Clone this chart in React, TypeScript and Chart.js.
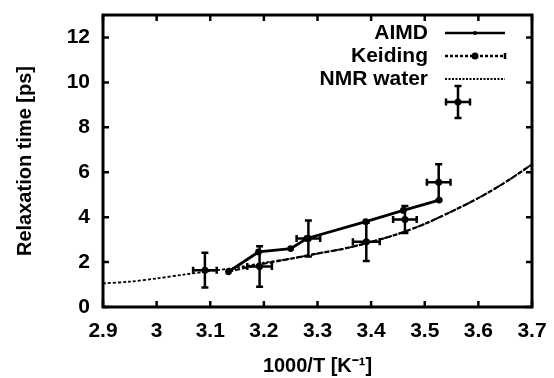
import React, { useEffect, useRef } from "react";
import { Chart, registerables } from "chart.js";

Chart.register(...registerables);

const xTicks = [2.9, 3.0, 3.1, 3.2, 3.3, 3.4, 3.5, 3.6, 3.7];
const yTicks = [0, 2, 4, 6, 8, 10, 12];

const aimdX = [3.134, 3.19, 3.25, 3.28, 3.39, 3.46, 3.527];
const aimdY = [1.57, 2.45, 2.6, 3.05, 3.8, 4.3, 4.76];

const keidingX = [3.134, 3.19, 3.25, 3.3, 3.35, 3.4, 3.45, 3.5, 3.55, 3.6, 3.65, 3.7];
const keidingY = [1.57, 1.88, 2.15, 2.38, 2.6, 2.9, 3.25, 3.7, 4.25, 4.85, 5.55, 6.35];

const nmrX = [2.9, 2.95, 3.0, 3.05, 3.1, 3.15, 3.2, 3.25, 3.3, 3.35, 3.4, 3.45, 3.5, 3.55, 3.6, 3.65, 3.7];
const nmrY = [1.05, 1.13, 1.27, 1.44, 1.6, 1.76, 1.97, 2.15, 2.38, 2.6, 2.9, 3.25, 3.7, 4.25, 4.85, 5.55, 6.35];

const expX = [3.09, 3.192, 3.283, 3.391, 3.463, 3.526];
const expY = [1.64, 1.8, 3.05, 2.9, 3.9, 5.55];
const expXErr = [0.022, 0.023, 0.022, 0.025, 0.022, 0.022];
const expYErr = [0.77, 0.9, 0.8, 0.85, 0.6, 0.8];

const seriesNames = ["AIMD", "Keiding", "NMR water"];

const FONT = "'Liberation Sans', Arial, sans-serif";

const zip = (xs: number[], ys: number[]) => xs.map((x, i) => ({ x, y: ys[i] }));

const framePlugin = {
  id: "frame",
  afterDraw(chart: any) {
    const { ctx, chartArea: a, scales } = chart;
    ctx.save();
    ctx.strokeStyle = "#000";
    ctx.lineWidth = 3;
    ctx.strokeRect(a.left, a.top, a.right - a.left, a.bottom - a.top);
    ctx.lineWidth = 2.5;
    const tl = 6;
    ctx.beginPath();
    xTicks.forEach((v) => {
      const px = scales.x.getPixelForValue(v);
      ctx.moveTo(px, a.bottom);
      ctx.lineTo(px, a.bottom - tl);
      ctx.moveTo(px, a.top);
      ctx.lineTo(px, a.top + tl);
    });
    yTicks.forEach((v) => {
      const py = scales.y.getPixelForValue(v);
      ctx.moveTo(a.left, py);
      ctx.lineTo(a.left + tl, py);
      ctx.moveTo(a.right, py);
      ctx.lineTo(a.right - tl, py);
    });
    ctx.stroke();
    ctx.restore();
  },
};

function drawCross(ctx: any, cx: number, cy: number, x0: number, x1: number, y0: number, y1: number) {
  const cap = 3.5;
  ctx.beginPath();
  ctx.moveTo(cx, y0);
  ctx.lineTo(cx, y1);
  ctx.moveTo(cx - cap, y0);
  ctx.lineTo(cx + cap, y0);
  ctx.moveTo(cx - cap, y1);
  ctx.lineTo(cx + cap, y1);
  ctx.moveTo(x0, cy);
  ctx.lineTo(x1, cy);
  ctx.moveTo(x0, cy - cap);
  ctx.lineTo(x0, cy + cap);
  ctx.moveTo(x1, cy - cap);
  ctx.lineTo(x1, cy + cap);
  ctx.stroke();
  ctx.beginPath();
  ctx.arc(cx, cy, 3.5, 0, Math.PI * 2);
  ctx.fill();
}

const errorPlugin = {
  id: "errbars",
  afterDatasetsDraw(chart: any) {
    const { ctx, scales } = chart;
    ctx.save();
    ctx.strokeStyle = "#000";
    ctx.fillStyle = "#000";
    ctx.lineWidth = 2.5;
    expX.forEach((x, i) => {
      const cx = scales.x.getPixelForValue(x);
      const cy = scales.y.getPixelForValue(expY[i]);
      drawCross(
        ctx,
        cx,
        cy,
        scales.x.getPixelForValue(x - expXErr[i]),
        scales.x.getPixelForValue(x + expXErr[i]),
        scales.y.getPixelForValue(expY[i] + expYErr[i]),
        scales.y.getPixelForValue(expY[i] - expYErr[i])
      );
    });
    ctx.restore();
  },
};

const legendPlugin = {
  id: "gnuLegend",
  afterDraw(chart: any) {
    const { ctx, chartArea: a } = chart;
    const textRight = a.right - 104;
    const s0 = a.right - 87;
    const s1 = a.right - 27;
    const sm = (s0 + s1) / 2;
    const rows = [a.top + 18, a.top + 41, a.top + 64, a.top + 87];
    ctx.save();
    ctx.fillStyle = "#000";
    ctx.strokeStyle = "#000";
    ctx.font = `bold 21px ${FONT}`;
    ctx.textAlign = "right";
    ctx.textBaseline = "middle";
    seriesNames.forEach((n, i) => ctx.fillText(n, textRight, rows[i]));
    // AIMD
    ctx.lineWidth = 2.5;
    ctx.setLineDash([]);
    ctx.beginPath();
    ctx.moveTo(s0, rows[0]);
    ctx.lineTo(s1, rows[0]);
    ctx.stroke();
    ctx.beginPath();
    ctx.arc(sm, rows[0], 2, 0, Math.PI * 2);
    ctx.fill();
    // Keiding
    ctx.lineWidth = 2.5;
    ctx.setLineDash([3, 2]);
    ctx.beginPath();
    ctx.moveTo(s0, rows[1]);
    ctx.lineTo(s1, rows[1]);
    ctx.stroke();
    ctx.setLineDash([]);
    ctx.beginPath();
    ctx.arc(sm, rows[1], 3.5, 0, Math.PI * 2);
    ctx.fill();
    ctx.beginPath();
    ctx.moveTo(s1, rows[1] - 3);
    ctx.lineTo(s1, rows[1] + 3);
    ctx.stroke();
    // NMR
    ctx.lineWidth = 1.8;
    ctx.setLineDash([2, 1.5]);
    ctx.beginPath();
    ctx.moveTo(s0, rows[2]);
    ctx.lineTo(s1, rows[2]);
    ctx.stroke();
    ctx.setLineDash([]);
    // cross sample
    ctx.lineWidth = 2.5;
    drawCross(ctx, sm - 17, rows[3], sm - 29, sm - 5, rows[3] - 16, rows[3] + 16);
    ctx.restore();
  },
};

export default function App() {
  const ref = useRef<HTMLCanvasElement | null>(null);
  useEffect(() => {
    if (!ref.current) return;
    const tickFont = { family: FONT, size: 21, weight: "bold" as const };
    const chart = new Chart(ref.current, {
      type: "scatter",
      data: {
        datasets: [
          {
            label: "NMR water",
            data: zip(nmrX, nmrY),
            showLine: true,
            borderColor: "#000",
            borderWidth: 1.8,
            borderDash: [3, 2],
            pointRadius: 0,
            tension: 0.3,
          },
          {
            label: "Keiding",
            data: zip(keidingX, keidingY),
            showLine: true,
            borderColor: "#000",
            borderWidth: 2.2,
            borderDash: [5, 2],
            pointRadius: 0,
            tension: 0.3,
          },
          {
            label: "AIMD",
            data: zip(aimdX, aimdY),
            showLine: true,
            borderColor: "#000",
            backgroundColor: "#000",
            borderWidth: 2.8,
            pointRadius: 2,
            tension: 0,
          },
        ],
      },
      options: {
        animation: false,
        responsive: false,
        layout: { padding: { top: 15, right: 22, left: 0, bottom: 0 } },
        plugins: { legend: { display: false }, tooltip: { enabled: false } },
        scales: {
          x: {
            type: "linear",
            min: 2.9,
            max: 3.7,
            afterBuildTicks: (s: any) => {
              s.ticks = xTicks.map((v) => ({ value: v }));
            },
            afterFit: (s: any) => {
              s.height = 71;
              s.paddingLeft = 0;
              s.paddingRight = 0;
            },
            grid: { display: false, drawTicks: false },
            border: { display: false },
            ticks: {
              color: "#000",
              font: tickFont,
              padding: 12,
              maxRotation: 0,
              autoSkip: false,
              callback: (v: any) => String(Number(Number(v).toFixed(1))),
            },
            title: {
              display: true,
              text: "1000/T [K⁻¹]",
              color: "#000",
              font: { family: FONT, size: 20, weight: "bold" },
              padding: { top: 0, bottom: 0 },
            },
          },
          y: {
            type: "linear",
            min: 0,
            max: 13,
            afterBuildTicks: (s: any) => {
              s.ticks = yTicks.map((v) => ({ value: v }));
            },
            afterFit: (s: any) => {
              s.width = 103;
              s.paddingTop = 0;
              s.paddingBottom = 0;
            },
            grid: { display: false, drawTicks: false },
            border: { display: false },
            ticks: {
              color: "#000",
              font: tickFont,
              padding: 13,
              autoSkip: false,
              callback: (v: any) => String(v),
            },
            title: {
              display: true,
              text: "Relaxation time [ps]",
              color: "#000",
              font: { family: FONT, size: 20, weight: "bold" },
              padding: { top: 13, bottom: 0 },
            },
          },
        },
      },
      plugins: [framePlugin, errorPlugin, legendPlugin],
    });
    return () => chart.destroy();
  }, []);
  return (
    <div style={{ position: "fixed", left: 0, top: 0, width: 554, height: 378, background: "#fff" }}>
      <canvas ref={ref} width={554} height={378} />
    </div>
  );
}
